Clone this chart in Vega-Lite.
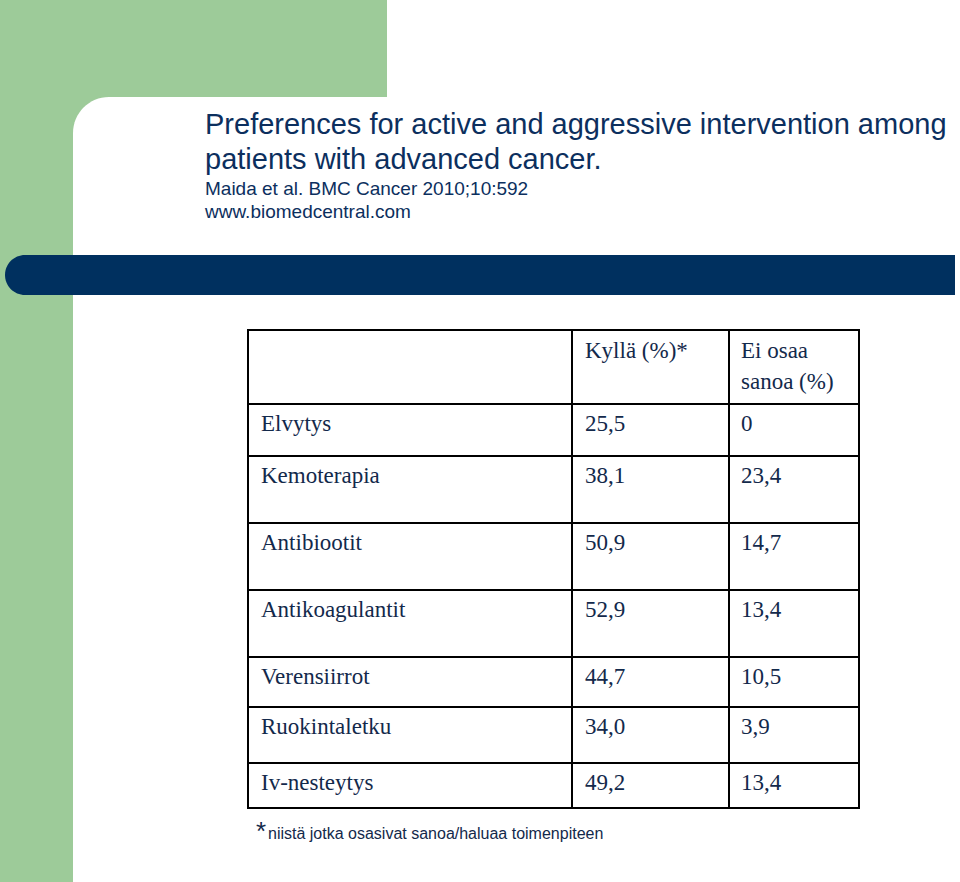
{
  "$schema": "https://vega.github.io/schema/vega-lite/v6.json",
  "width": 960,
  "height": 882,
  "padding": 0,
  "autosize": {"type": "fit", "contains": "padding"},
  "background": "white",
  "config": {
    "view": {"stroke": null},
    "locale": {"number": {"decimal": ",", "thousands": "\u00a0", "grouping": [3], "currency": ["", "\u00a0€"]}}
  },
  "datasets": {
    "taulukko": [
      {"rivi": 1, "hoito": "Elvytys", "kylla": 25.5, "ei": 0},
      {"rivi": 2, "hoito": "Kemoterapia", "kylla": 38.1, "ei": 23.4},
      {"rivi": 3, "hoito": "Antibiootit", "kylla": 50.9, "ei": 14.7},
      {"rivi": 4, "hoito": "Antikoagulantit", "kylla": 52.9, "ei": 13.4},
      {"rivi": 5, "hoito": "Verensiirrot", "kylla": 44.7, "ei": 10.5},
      {"rivi": 6, "hoito": "Ruokintaletku", "kylla": 34.0, "ei": 3.9},
      {"rivi": 7, "hoito": "Iv-nesteytys", "kylla": 49.2, "ei": 13.4}
    ]
  },
  "layer": [
    {
      "data": {"values": [{}]},
      "mark": {"type": "rect", "color": "#9dcb99"},
      "encoding": {
        "x": {"datum": 0, "type": "quantitative", "scale": {"domain": [0, 960], "range": [0, 960], "nice": false, "zero": false}, "axis": null},
        "x2": {"datum": 387},
        "y": {"datum": 0, "type": "quantitative", "scale": {"domain": [0, 882], "range": [0, 882], "nice": false, "zero": false}, "axis": null},
        "y2": {"datum": 140}
      }
    },
    {
      "data": {"values": [{}]},
      "mark": {"type": "rect", "color": "#9dcb99"},
      "encoding": {
        "x": {"datum": 0, "type": "quantitative", "scale": {"domain": [0, 960], "range": [0, 960], "nice": false, "zero": false}, "axis": null},
        "x2": {"datum": 73},
        "y": {"datum": 0, "type": "quantitative", "scale": {"domain": [0, 882], "range": [0, 882], "nice": false, "zero": false}, "axis": null},
        "y2": {"datum": 882}
      }
    },
    {
      "data": {"values": [{}]},
      "mark": {"type": "rect", "color": "#ffffff", "cornerRadiusTopLeft": 36},
      "encoding": {
        "x": {"datum": 73, "type": "quantitative", "scale": {"domain": [0, 960], "range": [0, 960], "nice": false, "zero": false}, "axis": null},
        "x2": {"datum": 960},
        "y": {"datum": 97, "type": "quantitative", "scale": {"domain": [0, 882], "range": [0, 882], "nice": false, "zero": false}, "axis": null},
        "y2": {"datum": 882}
      }
    },
    {
      "data": {"values": [{}]},
      "mark": {"type": "rect", "color": "#00305f", "cornerRadiusTopLeft": 20, "cornerRadiusBottomLeft": 20},
      "encoding": {
        "x": {"datum": 5, "type": "quantitative", "scale": {"domain": [0, 960], "range": [0, 960], "nice": false, "zero": false}, "axis": null},
        "x2": {"datum": 955},
        "y": {"datum": 255, "type": "quantitative", "scale": {"domain": [0, 882], "range": [0, 882], "nice": false, "zero": false}, "axis": null},
        "y2": {"datum": 295}
      }
    },
    {
      "data": {"values": [{}]},
      "mark": {"type": "text", "font": "Liberation Sans", "fontSize": 29, "color": "#0c2f5e", "align": "left", "baseline": "alphabetic", "lineHeight": 35},
      "encoding": {
        "x": {"datum": 205, "type": "quantitative", "scale": {"domain": [0, 960], "range": [0, 960], "nice": false, "zero": false}, "axis": null},
        "y": {"datum": 134, "type": "quantitative", "scale": {"domain": [0, 882], "range": [0, 882], "nice": false, "zero": false}, "axis": null},
        "text": {"value": ["Preferences for active and aggressive intervention among", "patients with advanced cancer."]}
      }
    },
    {
      "data": {"values": [{}]},
      "mark": {"type": "text", "font": "Liberation Sans", "fontSize": 19, "color": "#0c2f5e", "align": "left", "baseline": "alphabetic", "lineHeight": 23},
      "encoding": {
        "x": {"datum": 205, "type": "quantitative", "scale": {"domain": [0, 960], "range": [0, 960], "nice": false, "zero": false}, "axis": null},
        "y": {"datum": 195, "type": "quantitative", "scale": {"domain": [0, 882], "range": [0, 882], "nice": false, "zero": false}, "axis": null},
        "text": {"value": ["Maida et al. BMC Cancer 2010;10:592", "www.biomedcentral.com"]}
      }
    },
    {
      "data": {"values": [{}]},
      "mark": {"type": "rect", "fill": null, "fillOpacity": 0, "stroke": "#000000", "strokeWidth": 2},
      "encoding": {
        "x": {"datum": 248, "type": "quantitative", "scale": {"domain": [0, 960], "range": [0, 960], "nice": false, "zero": false}, "axis": null},
        "x2": {"datum": 859},
        "y": {"datum": 330, "type": "quantitative", "scale": {"domain": [0, 882], "range": [0, 882], "nice": false, "zero": false}, "axis": null},
        "y2": {"datum": 808}
      }
    },
    {
      "data": {"values": [{"sarake": 572}, {"sarake": 729}]},
      "mark": {"type": "rule", "color": "#000000", "strokeWidth": 2},
      "encoding": {
        "x": {"field": "sarake", "type": "quantitative", "scale": {"domain": [0, 960], "range": [0, 960], "nice": false, "zero": false}, "axis": null},
        "y": {"datum": 330, "type": "quantitative", "scale": {"domain": [0, 882], "range": [0, 882], "nice": false, "zero": false}, "axis": null},
        "y2": {"datum": 808}
      }
    },
    {
      "data": {"name": "taulukko"},
      "mark": {"type": "rule", "color": "#000000", "strokeWidth": 2},
      "encoding": {
        "x": {"datum": 248, "type": "quantitative", "scale": {"domain": [0, 960], "range": [0, 960], "nice": false, "zero": false}, "axis": null},
        "x2": {"datum": 859},
        "y": {"field": "rivi", "type": "quantitative", "scale": {"domain": [0, 1, 2, 3, 4, 5, 6, 7, 8], "range": [330, 404, 456, 523, 590, 657, 707, 763, 808], "nice": false, "zero": false}, "axis": null}
      }
    },
    {
      "data": {"name": "taulukko"},
      "mark": {"type": "text", "font": "Liberation Serif", "fontSize": 23, "color": "#13294b", "align": "left", "baseline": "alphabetic", "dy": 27},
      "encoding": {
        "x": {"datum": 261, "type": "quantitative", "scale": {"domain": [0, 960], "range": [0, 960], "nice": false, "zero": false}, "axis": null},
        "y": {"field": "rivi", "type": "quantitative", "scale": {"domain": [0, 1, 2, 3, 4, 5, 6, 7, 8], "range": [330, 404, 456, 523, 590, 657, 707, 763, 808], "nice": false, "zero": false}, "axis": null},
        "text": {"field": "hoito", "type": "nominal"}
      }
    },
    {
      "data": {"name": "taulukko"},
      "mark": {"type": "text", "font": "Liberation Serif", "fontSize": 23, "color": "#13294b", "align": "left", "baseline": "alphabetic", "dy": 27},
      "encoding": {
        "x": {"datum": 585, "type": "quantitative", "scale": {"domain": [0, 960], "range": [0, 960], "nice": false, "zero": false}, "axis": null},
        "y": {"field": "rivi", "type": "quantitative", "scale": {"domain": [0, 1, 2, 3, 4, 5, 6, 7, 8], "range": [330, 404, 456, 523, 590, 657, 707, 763, 808], "nice": false, "zero": false}, "axis": null},
        "text": {"field": "kylla", "type": "quantitative", "format": ".1f"}
      }
    },
    {
      "data": {"name": "taulukko"},
      "mark": {"type": "text", "font": "Liberation Serif", "fontSize": 23, "color": "#13294b", "align": "left", "baseline": "alphabetic", "dy": 27},
      "encoding": {
        "x": {"datum": 741, "type": "quantitative", "scale": {"domain": [0, 960], "range": [0, 960], "nice": false, "zero": false}, "axis": null},
        "y": {"field": "rivi", "type": "quantitative", "scale": {"domain": [0, 1, 2, 3, 4, 5, 6, 7, 8], "range": [330, 404, 456, 523, 590, 657, 707, 763, 808], "nice": false, "zero": false}, "axis": null},
        "text": {"condition": {"test": "datum.ei === 0", "value": "0"}, "field": "ei", "type": "quantitative", "format": ".1f"}
      }
    },
    {
      "data": {"values": [{}]},
      "mark": {"type": "text", "font": "Liberation Serif", "fontSize": 23, "color": "#13294b", "align": "left", "baseline": "alphabetic"},
      "encoding": {
        "x": {"datum": 585, "type": "quantitative", "scale": {"domain": [0, 960], "range": [0, 960], "nice": false, "zero": false}, "axis": null},
        "y": {"datum": 358, "type": "quantitative", "scale": {"domain": [0, 882], "range": [0, 882], "nice": false, "zero": false}, "axis": null},
        "text": {"value": "Kyllä (%)*"}
      }
    },
    {
      "data": {"values": [{}]},
      "mark": {"type": "text", "font": "Liberation Serif", "fontSize": 23, "color": "#13294b", "align": "left", "baseline": "alphabetic", "lineHeight": 31},
      "encoding": {
        "x": {"datum": 741, "type": "quantitative", "scale": {"domain": [0, 960], "range": [0, 960], "nice": false, "zero": false}, "axis": null},
        "y": {"datum": 358, "type": "quantitative", "scale": {"domain": [0, 882], "range": [0, 882], "nice": false, "zero": false}, "axis": null},
        "text": {"value": ["Ei osaa", "sanoa (%)"]}
      }
    },
    {
      "data": {"values": [{}]},
      "mark": {"type": "text", "font": "Liberation Sans", "fontSize": 26, "color": "#13294b", "align": "left", "baseline": "alphabetic"},
      "encoding": {
        "x": {"datum": 256, "type": "quantitative", "scale": {"domain": [0, 960], "range": [0, 960], "nice": false, "zero": false}, "axis": null},
        "y": {"datum": 840, "type": "quantitative", "scale": {"domain": [0, 882], "range": [0, 882], "nice": false, "zero": false}, "axis": null},
        "text": {"value": "*"}
      }
    },
    {
      "data": {"values": [{}]},
      "mark": {"type": "text", "font": "Liberation Sans", "fontSize": 16, "color": "#13294b", "align": "left", "baseline": "alphabetic"},
      "encoding": {
        "x": {"datum": 268, "type": "quantitative", "scale": {"domain": [0, 960], "range": [0, 960], "nice": false, "zero": false}, "axis": null},
        "y": {"datum": 839, "type": "quantitative", "scale": {"domain": [0, 882], "range": [0, 882], "nice": false, "zero": false}, "axis": null},
        "text": {"value": "niistä jotka osasivat sanoa/haluaa toimenpiteen"}
      }
    }
  ],
  "resolve": {"scale": {"y": "independent"}}
}
